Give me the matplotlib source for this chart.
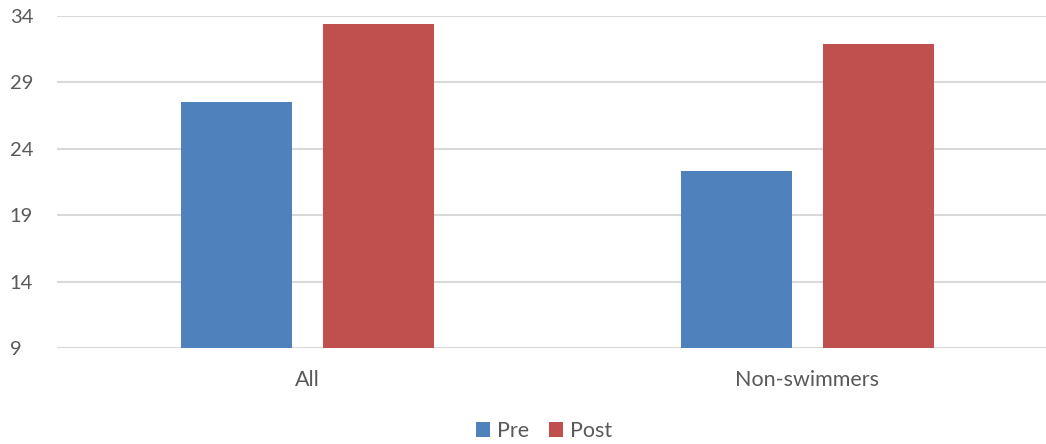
import numpy as np
import matplotlib
matplotlib.use("Agg")
import matplotlib.pyplot as plt

groups = ["All", "Non-swimmers"]
pre = [27.5, 22.3]
post = [33.4, 31.9]
yticks = [9, 14, 19, 24, 29, 34]

BLUE = "#4F81BD"
RED = "#C0504D"
GRID = "#D9D9D9"
TEXT = "#595959"

plt.rcParams["font.family"] = ["Lato", "DejaVu Sans"]

fig = plt.figure(figsize=(10.46, 4.44), dpi=100)
ax = fig.add_axes([57 / 1046, 96 / 444, 1 - 57 / 1046, 332 / 444])

x = np.arange(len(groups))
w = 0.222
off = 0.142
ax.bar(x - off, np.array(pre) - 9, w, bottom=9, color=BLUE, label="Pre", zorder=3)
ax.bar(x + off, np.array(post) - 9, w, bottom=9, color=RED, label="Post", zorder=3)

ax.set_xlim(-0.5, 1.478)
ax.set_ylim(9, 34)
ax.set_yticks(yticks)
ax.yaxis.grid(True, color=GRID, lw=1.5, zorder=0)
ax.set_xticks(x)
ax.set_xticklabels(groups)

for s in ["top", "right", "left", "bottom"]:
    ax.spines[s].set_visible(False)
ax.axhline(9, color=GRID, lw=1.5, zorder=1)

ax.tick_params(axis="both", length=0, colors=TEXT, labelsize=14.5)
ax.tick_params(axis="x", pad=16, labelsize=15.5)
ax.tick_params(axis="y", pad=34)
for lab in ax.get_yticklabels():
    lab.set_horizontalalignment("left")

ax.legend(loc="center", bbox_to_anchor=(0.52, 13 / 444), bbox_transform=fig.transFigure,
          ncol=2, frameon=False, fontsize=15.5, handlelength=0.65, handleheight=0.65,
          handletextpad=0.35, columnspacing=0.9, labelcolor=TEXT)

fig.savefig("out.png", dpi=100)
